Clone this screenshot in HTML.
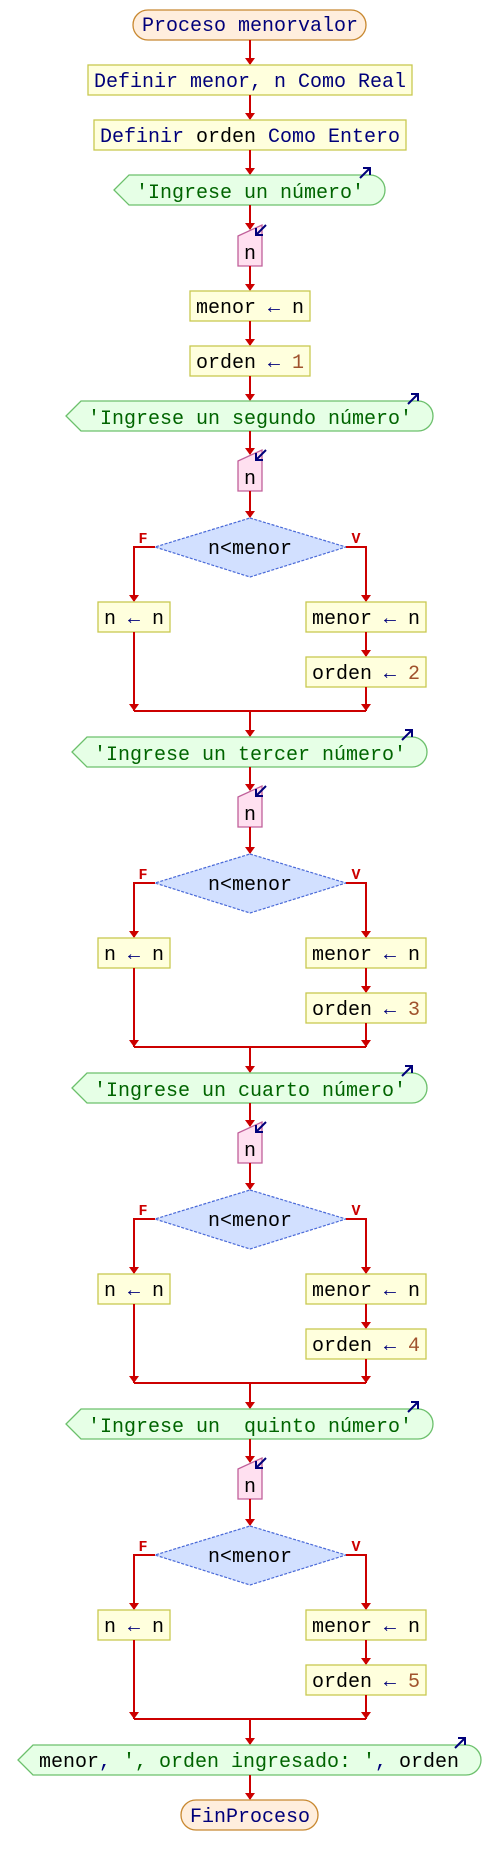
<!DOCTYPE html>
<html><head><meta charset="utf-8"><style>
html,body{margin:0;padding:0;background:#fff;}
svg{display:block;font-family:"Liberation Mono",monospace;font-size:20px;}
.ln{stroke:#cc0000;stroke-width:2;fill:none;}
.bx{fill:#ffffdd;stroke:#c8c850;stroke-width:1.3;}
.out{fill:#e6ffe6;stroke:#6cc06c;stroke-width:1.3;}
.inp{fill:#ffe0f0;stroke:#c0609a;stroke-width:1.3;}
.dia{fill:#d2e0ff;stroke:#4a6ad8;stroke-width:1.2;stroke-dasharray:3,1.5;}
.term{fill:#ffeedd;stroke:#c88830;stroke-width:1.3;}
.k{fill:#00007a;} .s{fill:#006400;} .b{fill:#000;} .num{fill:#a0522d;} .r{fill:#cc0000;font-size:15px;font-weight:bold;}
.ic{stroke:#00007a;stroke-width:2;fill:none;}
</style></head><body>
<svg width="500" height="1865" viewBox="0 0 500 1865" xmlns="http://www.w3.org/2000/svg">
<defs>
<path id="ah" d="M-5,-7 L5,-7 L0,0 Z" fill="#cc0000"/>
<g id="up"><path class="ic" d="M0,10 L10,0 M3,0 H10 V7"/></g>
<g id="dn"><path class="ic" d="M10,0 L0,10 M0,3 V10 H7"/></g>
</defs>

<!-- header -->
<rect class="term" x="133" y="10" width="233" height="30" rx="15"/>
<text x="250" y="31" text-anchor="middle" class="k">Proceso menorvalor</text>
<line class="ln" x1="250" y1="40" x2="250" y2="64"/><use href="#ah" x="250" y="65"/>
<rect class="bx" x="88" y="65" width="324" height="30"/>
<text x="250" y="87" text-anchor="middle"><tspan class="k">Definir menor, n Como Real</tspan></text>
<line class="ln" x1="250" y1="95" x2="250" y2="119"/><use href="#ah" x="250" y="120"/>
<rect class="bx" x="94" y="120" width="312" height="30"/>
<text x="250" y="142" text-anchor="middle"><tspan class="k">Definir </tspan><tspan class="b">orden</tspan><tspan class="k"> Como Entero</tspan></text>
<line class="ln" x1="250" y1="150" x2="250" y2="174"/><use href="#ah" x="250" y="175"/>
<path class="out" d="M114,190 L129,175 H370 A15,15 0 0 1 370,205 H129 Z"/>
<text x="250" y="198" text-anchor="middle" class="s">'Ingrese un número'</text>
<use href="#up" x="360" y="168"/>
<line class="ln" x1="250" y1="205" x2="250" y2="229"/><use href="#ah" x="250" y="230"/>
<path class="inp" d="M238,236 L262,225 V266 H238 Z"/>
<text x="250" y="259" text-anchor="middle" class="b">n</text>
<use href="#dn" x="256" y="225"/>
<line class="ln" x1="250" y1="266" x2="250" y2="290"/><use href="#ah" x="250" y="291"/>
<rect class="bx" x="190" y="291" width="120" height="30"/>
<text x="250" y="313" text-anchor="middle"><tspan class="b">menor </tspan><tspan class="k">←</tspan><tspan class="b"> n</tspan></text>
<line class="ln" x1="250" y1="321" x2="250" y2="345"/><use href="#ah" x="250" y="346"/>
<rect class="bx" x="190" y="346" width="120" height="30"/>
<text x="250" y="368" text-anchor="middle"><tspan class="b">orden </tspan><tspan class="k">←</tspan><tspan class="num"> 1</tspan></text>
<line class="ln" x1="250" y1="376" x2="250" y2="400"/><use href="#ah" x="250" y="401"/>

<!-- block template: base y = 401 + 336k -->
<g transform="translate(0,401)">
<path class="out" d="M66,15 L81,0 H418 A15,15 0 0 1 418,30 H81 Z"/>
<text x="250" y="23" text-anchor="middle" class="s">'Ingrese un segundo número'</text>
<use href="#up" x="408" y="-7"/>
<line class="ln" x1="250" y1="30" x2="250" y2="53"/><use href="#ah" x="250" y="54"/>
<path class="inp" d="M238,60 L262,49 V90 H238 Z"/><text x="250" y="83" text-anchor="middle" class="b">n</text><use href="#dn" x="256" y="49"/>
<line class="ln" x1="250" y1="90" x2="250" y2="116"/><use href="#ah" x="250" y="117"/>
<path class="dia" d="M250,117 L346,146 L250,176 L155,146 Z"/>
<text x="250" y="153" text-anchor="middle" class="b">n&lt;menor</text>
<text x="143" y="142" text-anchor="middle" class="r">F</text><text x="356" y="142" text-anchor="middle" class="r">V</text>
<path class="ln" d="M155,146 H134 V200"/><use href="#ah" x="134" y="201"/>
<path class="ln" d="M346,146 H366 V200"/><use href="#ah" x="366" y="201"/>
<rect class="bx" x="98" y="201" width="72" height="30"/>
<text x="134" y="223" text-anchor="middle"><tspan class="b">n </tspan><tspan class="k">←</tspan><tspan class="b"> n</tspan></text>
<rect class="bx" x="306" y="201" width="120" height="30"/>
<text x="366" y="223" text-anchor="middle"><tspan class="b">menor </tspan><tspan class="k">←</tspan><tspan class="b"> n</tspan></text>
<line class="ln" x1="366" y1="231" x2="366" y2="255"/><use href="#ah" x="366" y="256"/>
<rect class="bx" x="306" y="256" width="120" height="30"/>
<text x="366" y="278" text-anchor="middle"><tspan class="b">orden </tspan><tspan class="k">←</tspan><tspan class="num"> 2</tspan></text>
<path class="ln" d="M134,231 V310 M366,286 V310 M134,310 H366 M250,310 V335"/>
<use href="#ah" x="134" y="310"/><use href="#ah" x="366" y="310"/><use href="#ah" x="250" y="336"/>
</g>

<g transform="translate(0,737)">
<path class="out" d="M72,15 L87,0 H412 A15,15 0 0 1 412,30 H87 Z"/>
<text x="250" y="23" text-anchor="middle" class="s">'Ingrese un tercer número'</text>
<use href="#up" x="402" y="-7"/>
<line class="ln" x1="250" y1="30" x2="250" y2="53"/><use href="#ah" x="250" y="54"/>
<path class="inp" d="M238,60 L262,49 V90 H238 Z"/><text x="250" y="83" text-anchor="middle" class="b">n</text><use href="#dn" x="256" y="49"/>
<line class="ln" x1="250" y1="90" x2="250" y2="116"/><use href="#ah" x="250" y="117"/>
<path class="dia" d="M250,117 L346,146 L250,176 L155,146 Z"/>
<text x="250" y="153" text-anchor="middle" class="b">n&lt;menor</text>
<text x="143" y="142" text-anchor="middle" class="r">F</text><text x="356" y="142" text-anchor="middle" class="r">V</text>
<path class="ln" d="M155,146 H134 V200"/><use href="#ah" x="134" y="201"/>
<path class="ln" d="M346,146 H366 V200"/><use href="#ah" x="366" y="201"/>
<rect class="bx" x="98" y="201" width="72" height="30"/>
<text x="134" y="223" text-anchor="middle"><tspan class="b">n </tspan><tspan class="k">←</tspan><tspan class="b"> n</tspan></text>
<rect class="bx" x="306" y="201" width="120" height="30"/>
<text x="366" y="223" text-anchor="middle"><tspan class="b">menor </tspan><tspan class="k">←</tspan><tspan class="b"> n</tspan></text>
<line class="ln" x1="366" y1="231" x2="366" y2="255"/><use href="#ah" x="366" y="256"/>
<rect class="bx" x="306" y="256" width="120" height="30"/>
<text x="366" y="278" text-anchor="middle"><tspan class="b">orden </tspan><tspan class="k">←</tspan><tspan class="num"> 3</tspan></text>
<path class="ln" d="M134,231 V310 M366,286 V310 M134,310 H366 M250,310 V335"/>
<use href="#ah" x="134" y="310"/><use href="#ah" x="366" y="310"/><use href="#ah" x="250" y="336"/>
</g>

<g transform="translate(0,1073)">
<path class="out" d="M72,15 L87,0 H412 A15,15 0 0 1 412,30 H87 Z"/>
<text x="250" y="23" text-anchor="middle" class="s">'Ingrese un cuarto número'</text>
<use href="#up" x="402" y="-7"/>
<line class="ln" x1="250" y1="30" x2="250" y2="53"/><use href="#ah" x="250" y="54"/>
<path class="inp" d="M238,60 L262,49 V90 H238 Z"/><text x="250" y="83" text-anchor="middle" class="b">n</text><use href="#dn" x="256" y="49"/>
<line class="ln" x1="250" y1="90" x2="250" y2="116"/><use href="#ah" x="250" y="117"/>
<path class="dia" d="M250,117 L346,146 L250,176 L155,146 Z"/>
<text x="250" y="153" text-anchor="middle" class="b">n&lt;menor</text>
<text x="143" y="142" text-anchor="middle" class="r">F</text><text x="356" y="142" text-anchor="middle" class="r">V</text>
<path class="ln" d="M155,146 H134 V200"/><use href="#ah" x="134" y="201"/>
<path class="ln" d="M346,146 H366 V200"/><use href="#ah" x="366" y="201"/>
<rect class="bx" x="98" y="201" width="72" height="30"/>
<text x="134" y="223" text-anchor="middle"><tspan class="b">n </tspan><tspan class="k">←</tspan><tspan class="b"> n</tspan></text>
<rect class="bx" x="306" y="201" width="120" height="30"/>
<text x="366" y="223" text-anchor="middle"><tspan class="b">menor </tspan><tspan class="k">←</tspan><tspan class="b"> n</tspan></text>
<line class="ln" x1="366" y1="231" x2="366" y2="255"/><use href="#ah" x="366" y="256"/>
<rect class="bx" x="306" y="256" width="120" height="30"/>
<text x="366" y="278" text-anchor="middle"><tspan class="b">orden </tspan><tspan class="k">←</tspan><tspan class="num"> 4</tspan></text>
<path class="ln" d="M134,231 V310 M366,286 V310 M134,310 H366 M250,310 V335"/>
<use href="#ah" x="134" y="310"/><use href="#ah" x="366" y="310"/><use href="#ah" x="250" y="336"/>
</g>

<g transform="translate(0,1409)">
<path class="out" d="M66,15 L81,0 H418 A15,15 0 0 1 418,30 H81 Z"/>
<text x="250" y="23" text-anchor="middle" class="s" xml:space="preserve">'Ingrese un  quinto número'</text>
<use href="#up" x="408" y="-7"/>
<line class="ln" x1="250" y1="30" x2="250" y2="53"/><use href="#ah" x="250" y="54"/>
<path class="inp" d="M238,60 L262,49 V90 H238 Z"/><text x="250" y="83" text-anchor="middle" class="b">n</text><use href="#dn" x="256" y="49"/>
<line class="ln" x1="250" y1="90" x2="250" y2="116"/><use href="#ah" x="250" y="117"/>
<path class="dia" d="M250,117 L346,146 L250,176 L155,146 Z"/>
<text x="250" y="153" text-anchor="middle" class="b">n&lt;menor</text>
<text x="143" y="142" text-anchor="middle" class="r">F</text><text x="356" y="142" text-anchor="middle" class="r">V</text>
<path class="ln" d="M155,146 H134 V200"/><use href="#ah" x="134" y="201"/>
<path class="ln" d="M346,146 H366 V200"/><use href="#ah" x="366" y="201"/>
<rect class="bx" x="98" y="201" width="72" height="30"/>
<text x="134" y="223" text-anchor="middle"><tspan class="b">n </tspan><tspan class="k">←</tspan><tspan class="b"> n</tspan></text>
<rect class="bx" x="306" y="201" width="120" height="30"/>
<text x="366" y="223" text-anchor="middle"><tspan class="b">menor </tspan><tspan class="k">←</tspan><tspan class="b"> n</tspan></text>
<line class="ln" x1="366" y1="231" x2="366" y2="255"/><use href="#ah" x="366" y="256"/>
<rect class="bx" x="306" y="256" width="120" height="30"/>
<text x="366" y="278" text-anchor="middle"><tspan class="b">orden </tspan><tspan class="k">←</tspan><tspan class="num"> 5</tspan></text>
<path class="ln" d="M134,231 V310 M366,286 V310 M134,310 H366 M250,310 V335"/>
<use href="#ah" x="134" y="310"/><use href="#ah" x="366" y="310"/><use href="#ah" x="250" y="336"/>
</g>

<!-- final -->
<path class="out" d="M18,1760 L33,1745 H466 A15,15 0 0 1 466,1775 H33 Z"/>
<text x="249" y="1767" text-anchor="middle"><tspan class="b">menor</tspan><tspan class="k">, </tspan><tspan class="s">', orden ingresado: '</tspan><tspan class="k">, </tspan><tspan class="b">orden</tspan></text>
<use href="#up" x="455" y="1738"/>
<line class="ln" x1="250" y1="1775" x2="250" y2="1799"/><use href="#ah" x="250" y="1800"/>
<rect class="term" x="181" y="1800" width="137" height="30" rx="15"/>
<text x="250" y="1822" text-anchor="middle" class="k">FinProceso</text>
</svg>
</body></html>
